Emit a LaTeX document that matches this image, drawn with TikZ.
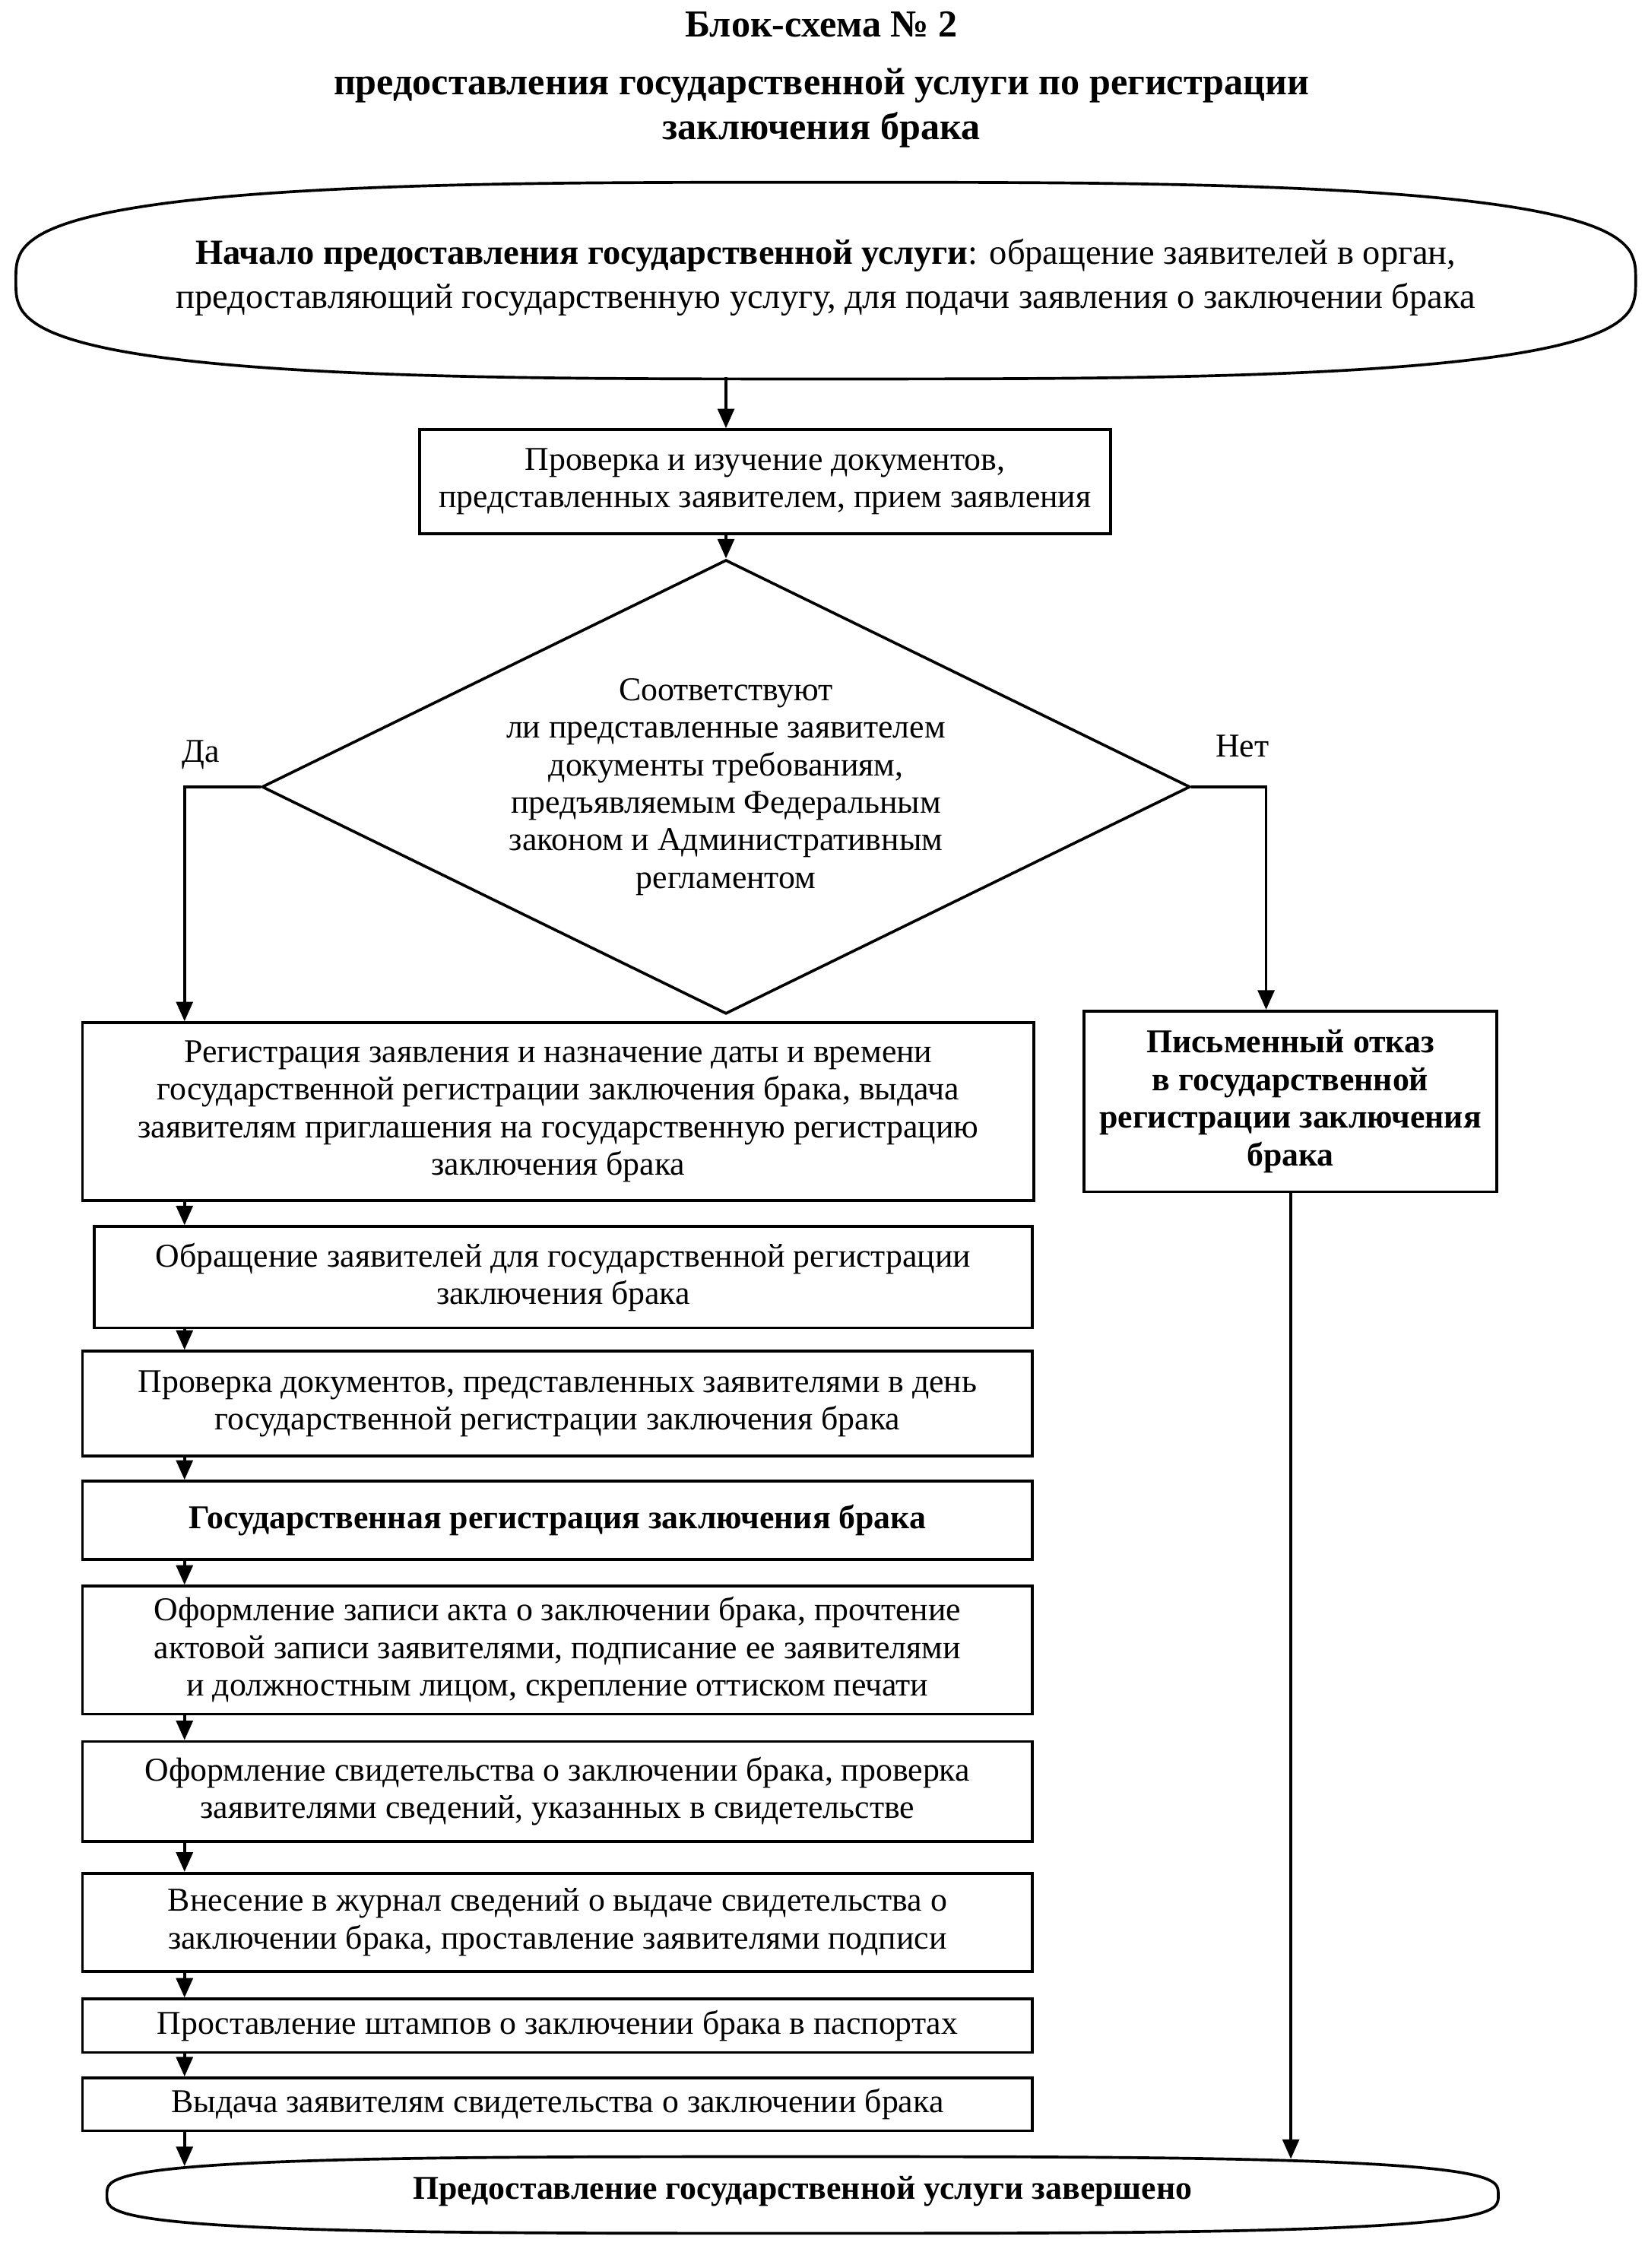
\documentclass[tikz,border=0pt]{standalone}
\usepackage{fontspec}
\setmainfont{Liberation Serif}
\usetikzlibrary{shapes.geometric,arrows.meta}

\begin{document}
\begin{tikzpicture}[x=0.02cm, y=-0.02cm, line width=1.1pt, line join=miter,
	>={Triangle[length=0.27cm, width=0.23cm]},
	font=\fontsize{13.1}{14.8}\selectfont,
	box/.style={draw, rectangle, inner sep=0pt, align=center},
	term/.style={rectangle, inner sep=0pt, align=center}]
	
	% ----------------------------
	% 0) Canvas
	% ----------------------------
	\useasboundingbox (0,0) rectangle (1137,1568);
	\coordinate (lcol) at (127.6,0);   % left column of arrows
	\coordinate (ncol) at (875.5,0);   % "no" branch
	\coordinate (rcol) at (892.6,0);   % refusal -> end
	
	% ----------------------------
	% 1) Title
	% ----------------------------
	\node[align=center, font=\fontsize{15}{17.6}\selectfont\bfseries] (title) at (568,55)
	{Блок-схема № 2\\[5pt] предоставления государственной услуги по регистрации\\ заключения брака};
	
	% ----------------------------
	% 2) Start (fat ellipse)
	% ----------------------------
	\node[term, minimum width=22.4cm, minimum height=2.72cm, font=\fontsize{13.9}{15.3}\selectfont] (start) at (571,192)
	{\textbf{Начало предоставления государственной услуги}: обращение заявителей в орган,\\[2pt]
		предоставляющий государственную услугу, для подачи заявления о заключении брака};
	\draw plot[domain=0.5:359.5, samples=240, smooth]
	({571+560*sign(cos(\x))*abs(cos(\x))^0.64}, {194+68*sign(sin(\x))*abs(sin(\x))^0.64}) -- cycle;
	
	% ----------------------------
	% 3) Check + decision
	% ----------------------------
	\node[box, minimum width=9.56cm, minimum height=1.44cm] (check) at (529,333)
	{Проверка и изучение документов,\\ представленных заявителем, прием заявления};
	
	\node[draw, diamond, inner sep=0pt, minimum width=12.84cm, minimum height=6.28cm,
	label={[align=center]center:Соответствуют\\ ли представленные заявителем\\ документы требованиям,\\
		предъявляемым Федеральным\\ законом и Административным\\ регламентом}] (cond) at (502,544) {};
	
	\node (yes) at (139,522) {Да};
	\node (no) at (859,516) {Нет};
	
	% ----------------------------
	% 4) Refusal branch
	% ----------------------------
	\node[box, minimum width=5.71cm, minimum height=2.5cm, font=\fontsize{13.1}{14.8}\selectfont\bfseries] (refuse) at (892.3,761.5)
	{Письменный отказ\\ в государственной\\ регистрации заключения\\ брака};
	
	% ----------------------------
	% 5) Main column
	% ----------------------------
	\node[box, minimum width=13.16cm, minimum height=2.46cm] (register) at (386,768.5)
	{Регистрация заявления и назначение даты и времени\\ государственной регистрации заключения брака, выдача\\
		заявителям приглашения на государственную регистрацию\\ заключения брака};
	\node[box, minimum width=12.98cm, minimum height=1.4cm] (appeal) at (389.5,883)
	{Обращение заявителей для государственной регистрации\\ заключения брака};
	\node[box, minimum width=13.14cm, minimum height=1.45cm] (verify) at (385.5,970.4)
	{Проверка документов, представленных заявителями в день\\ государственной регистрации заключения брака};
	\node[box, minimum width=13.14cm, minimum height=1.08cm, font=\fontsize{13.1}{14.8}\selectfont\bfseries] (regist) at (385.5,1051)
	{Государственная регистрация заключения брака};
	\node[box, minimum width=13.14cm, minimum height=1.77cm] (record) at (385.5,1140.8)
	{Оформление записи акта о заключении брака, прочтение\\ актовой записи заявителями, подписание ее заявителями\\
		и должностным лицом, скрепление оттиском печати};
	\node[box, minimum width=13.14cm, minimum height=1.38cm] (certif) at (385.5,1238.5)
	{Оформление свидетельства о заключении брака, проверка\\ заявителями сведений, указанных в свидетельстве};
	\node[box, minimum width=13.14cm, minimum height=1.36cm] (journal) at (385.5,1329)
	{Внесение в журнал сведений о выдаче свидетельства о\\ заключении брака, проставление заявителями подписи};
	\node[box, minimum width=13.14cm, minimum height=0.74cm] (stamps) at (385.5,1400.5)
	{Проставление штампов о заключении брака в паспортах};
	\node[box, minimum width=13.14cm, minimum height=0.73cm] (issue) at (385.5,1454.8)
	{Выдача заявителям свидетельства о заключении брака};
	
	% ----------------------------
	% 6) End (fat ellipse)
	% ----------------------------
	\node[term, minimum width=19.24cm, minimum height=1.06cm, font=\fontsize{13.1}{14.8}\selectfont\bfseries] (finish) at (555,1515)
	{Предоставление государственной услуги завершено};
	\draw plot[domain=0.5:359.5, samples=240, smooth]
	({555+481*sign(cos(\x))*abs(cos(\x))^0.6}, {1517.5+26.5*sign(sin(\x))*abs(sin(\x))^0.6}) -- cycle;
	
	% ----------------------------
	% 7) Arrows
	% ----------------------------
	\draw[->] (cond.north |- start.south) -- (cond.north |- check.north);
	\draw[->] (cond.north |- check.south) -- (cond.north);
	\draw[->] (cond.west) -- (cond.west -| lcol) -- (register.north -| lcol);
	\draw[->] (cond.east) -- (cond.east -| ncol) -- (refuse.north -| ncol);
	\foreach \a/\b in {register/appeal, appeal/verify, verify/regist, regist/record,
		record/certif, certif/journal, journal/stamps, stamps/issue}{
		\draw[->] (\a.south -| lcol) -- (\b.north -| lcol);
	}
	\draw[->] (issue.south -| lcol) -- ([yshift=-0.2cm]lcol |- finish.north);
	\draw[->] (refuse.south -| rcol) -- ([yshift=-0.1cm]rcol |- finish.north);
	
\end{tikzpicture}
\end{document}
